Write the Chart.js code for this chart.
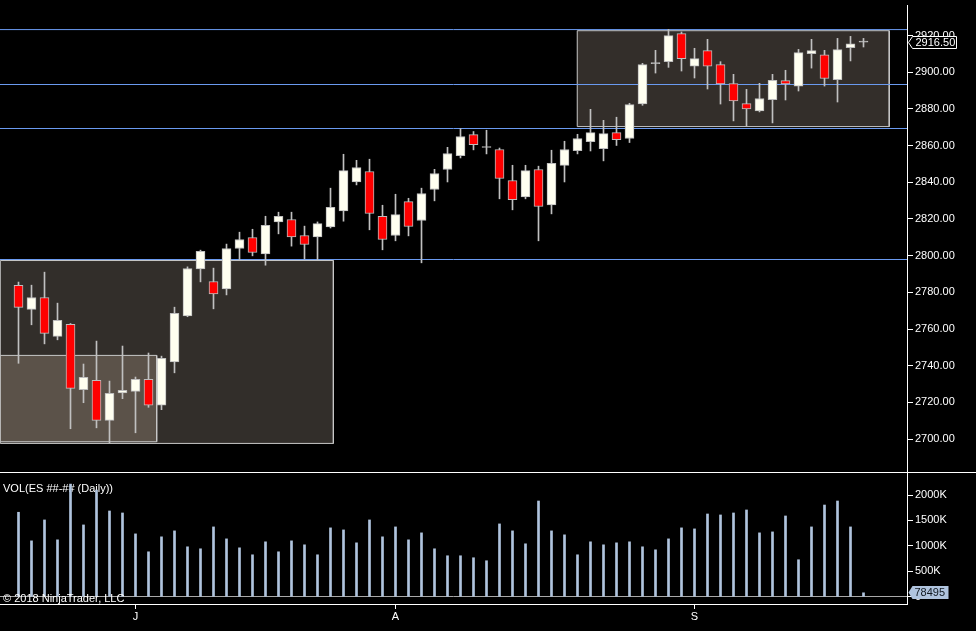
<!DOCTYPE html>
<html><head><meta charset="utf-8">
<script src="https://cdn.jsdelivr.net/npm/chart.js@4.4.1/dist/chart.umd.min.js"></script>
<style>
html,body{margin:0;padding:0;background:#000;overflow:hidden;}
#wrap{position:relative;width:976px;height:631px;background:#000;}
#price{position:absolute;left:0;top:0;}
#vol{position:absolute;left:0;top:472px;}
</style></head><body>
<div id="wrap">
<canvas id="price" width="976" height="472"></canvas>
<canvas id="vol" width="976" height="159"></canvas>
</div>
<script>
// ---- data (daily ES bars) ----
const openP  = [2783.8,2770.7,2777.2,2756.0,2762.5,2726.9,2732.0,2710.2,2725.2,2726.0,2732.5,2718.4,2742.1,2767.2,2792.8,2785.9,2781.9,2803.9,2809.9,2801.0,2818.4,2819.7,2811.0,2810.2,2815.7,2824.4,2840.2,2845.9,2821.4,2811.0,2829.5,2819.2,2836.1,2847.0,2854.6,2866.0,2859.0,2857.9,2841.0,2832.0,2847.0,2827.7,2849.2,2857.3,2862.2,2858.4,2867.1,2863.9,2882.7,2904.7,2905.8,2921.1,2903.4,2911.8,2904.2,2893.8,2882.9,2878.9,2885.1,2895.5,2892.5,2910.2,2909.6,2896.0,2913.5,2916.5];
const highP  = [2785.6,2783.9,2791.0,2774.1,2763.0,2740.9,2753.4,2731.6,2750.7,2733.8,2746.9,2745.2,2771.9,2793.9,2803.0,2793.2,2806.3,2812.8,2814.4,2821.5,2823.7,2823.7,2816.1,2818.4,2836.8,2855.3,2852.0,2852.6,2827.5,2833.5,2831.3,2836.8,2847.1,2859.1,2869.3,2867.7,2868.4,2858.7,2849.3,2849.3,2848.8,2857.5,2862.4,2866.2,2879.8,2873.8,2875.5,2883.1,2904.9,2912.0,2923.4,2922.0,2913.1,2918.0,2905.8,2898.9,2890.7,2894.0,2898.9,2901.1,2912.5,2918.0,2912.0,2918.5,2919.6,2918.5];
const lowP   = [2741.3,2762.3,2751.9,2754.1,2705.6,2719.8,2706.1,2698.0,2722.0,2703.4,2717.3,2716.0,2736.1,2766.7,2785.7,2771.0,2778.6,2797.9,2799.9,2794.8,2811.9,2805.2,2798.2,2797.9,2815.1,2818.8,2838.6,2814.1,2803.2,2808.1,2810.8,2796.1,2829.9,2840.2,2853.3,2857.7,2855.5,2831.0,2825.0,2831.0,2808.1,2822.8,2840.2,2855.5,2857.1,2851.7,2860.1,2861.7,2882.0,2899.6,2902.7,2900.7,2896.9,2890.9,2882.7,2873.5,2870.6,2878.4,2872.4,2884.9,2889.8,2902.3,2892.5,2883.8,2906.2,2913.8];
const closeP = [2771.8,2777.2,2757.6,2764.7,2727.6,2733.6,2710.2,2724.9,2726.5,2732.5,2718.4,2744.0,2768.5,2793.0,2802.3,2779.2,2803.9,2808.8,2801.7,2816.5,2821.4,2810.2,2806.1,2817.5,2826.3,2846.4,2848.1,2823.0,2808.8,2822.4,2815.9,2833.9,2844.8,2855.7,2865.0,2860.6,2859.0,2842.1,2830.6,2846.4,2826.8,2850.4,2857.9,2863.9,2867.1,2866.6,2863.3,2882.4,2904.2,2904.7,2920.0,2907.5,2907.5,2903.4,2893.6,2884.4,2880.0,2885.7,2895.6,2893.6,2910.7,2911.8,2896.6,2912.4,2915.6,2916.5];
const volume = [1661000,1099000,1510000,1119000,2214000,1412000,2097000,1686000,1647000,1236000,884000,1178000,1295000,982000,943000,1373000,1138000,962000,825000,1080000,884000,1099000,1021000,825000,1354000,1314000,1060000,1510000,1178000,1373000,1119000,1256000,943000,806000,806000,767000,708000,1432000,1295000,1041000,1882000,1295000,1217000,825000,1080000,1021000,1060000,1080000,982000,923000,1138000,1354000,1334000,1627000,1608000,1647000,1706000,1256000,1275000,1588000,728000,1373000,1803000,1882000,1373000,78495];

const priceTicks = [2700,2720,2740,2760,2780,2800,2820,2840,2860,2880,2900,2920];
const volumeTicks = [0,500000,1000000,1500000,2000000];
const monthTickIndex = [9,29,52];
const monthTickLabels = ['J','A','S'];

// drawn objects (in data units: bar index / price)
const hLines = [2923.3, 2893.35, 2869.35, 2797.9];
const zoneLeft   = [-1.4, -1.4, 42.98];
const zoneRight  = [24.22, 10.63, 66.98];
const zoneTop    = [2797.35, 2745.6, 2922.7];
const zoneBottom = [2697.6, 2698.5, 2870.4];

const volTitle = 'VOL(ES ##-## (Daily))';
const copyright = '\u00A9 2018 NinjaTrader, LLC';

// ---- styling / scales ----
const FONT = "'Liberation Sans', Arial, sans-serif";
Chart.defaults.font.family = FONT;
Chart.defaults.font.size = 11;
Chart.defaults.color = '#ffffff';

const X_MIN = -1.4231, X_MAX = 68.346;
const zoneFill = ['#322e2a', '#5b5249', '#332e2a'];
const last = closeP.length - 1;

const xScaleBase = {
  type: 'linear', min: X_MIN, max: X_MAX, offset: false,
  grid: {offset: false, display: false}
};

const zoneSets = zoneLeft.map((L, k) => ({
  type: 'line',
  data: [{x: L, y: zoneBottom[k]}, {x: L, y: zoneTop[k]}, {x: zoneRight[k], y: zoneTop[k]}, {x: zoneRight[k], y: zoneBottom[k]}, {x: L, y: zoneBottom[k]}],
  fill: 'shape', backgroundColor: zoneFill[k], borderColor: '#c8c8c8', borderWidth: 1,
  pointRadius: 0, pointHoverRadius: 0, tension: 0, order: 50 - k
}));
const lineSets = hLines.map(v => ({
  type: 'line',
  data: [{x: X_MIN, y: v}, {x: X_MAX, y: v}],
  borderColor: '#6a9af0', borderWidth: 1, fill: false,
  pointRadius: 0, pointHoverRadius: 0, tension: 0, order: 40
}));
const wickSet = {
  type: 'bar',
  data: highP.map((h, i) => ({x: i, y: [lowP[i], h]})),
  backgroundColor: '#c0c0c0', borderWidth: 0,
  barThickness: 1, grouped: false, order: 20
};
const bodySet = {
  type: 'bar',
  data: openP.map((o, i) => ({x: i, y: [o, closeP[i]]})),
  backgroundColor: openP.map((o, i) => closeP[i] > o ? '#fffff0' : (closeP[i] < o ? '#ff0000' : '#c0c0c0')),
  borderColor: '#bdbdbd', borderWidth: 1, borderSkipped: false,
  barThickness: 9, minBarLength: 1, grouped: false, order: 10
};

const lastPricePlugin = {
  id: 'lastPrice',
  afterDraw(chart) {
    const ctx = chart.ctx, y = Math.round(chart.scales.y.getPixelForValue(closeP[last])) + 0.5;
    const x0 = chart.chartArea.right + 0.5;
    ctx.save();
    ctx.beginPath();
    ctx.moveTo(x0 + 1, y);
    ctx.lineTo(x0 + 5, y - 6);
    ctx.lineTo(x0 + 49, y - 6);
    ctx.lineTo(x0 + 49, y + 6);
    ctx.lineTo(x0 + 5, y + 6);
    ctx.closePath();
    ctx.fillStyle = '#000';
    ctx.fill();
    ctx.strokeStyle = '#ffffff';
    ctx.lineWidth = 1;
    ctx.stroke();
    ctx.fillStyle = '#ffffff';
    ctx.font = '11px ' + FONT;
    ctx.textBaseline = 'middle';
    ctx.textAlign = 'left';
    ctx.fillText(closeP[last].toFixed(2), x0 + 8, y + 0.5);
    ctx.restore();
  }
};

new Chart(document.getElementById('price'), {
  type: 'bar',
  data: {datasets: [bodySet, wickSet, ...lineSets, ...zoneSets]},
  options: {
    responsive: false, animation: false, devicePixelRatio: 1, events: [],
    layout: {padding: {top: 5, left: 0, right: 0, bottom: 0}},
    plugins: {legend: {display: false}, tooltip: {enabled: false}},
    scales: {
      x: Object.assign({}, xScaleBase, {display: false}),
      y: {
        type: 'linear', position: 'right', min: 2682.01, max: 2936.71, beginAtZero: false,
        afterBuildTicks: s => { s.ticks = priceTicks.map(v => ({value: v})); },
        afterFit: s => { s.width = 69; s.paddingTop = 0; s.paddingBottom = 0; },
        ticks: {color: '#ffffff', padding: 2, font: {size: 11}, callback: v => Number(v).toFixed(2)},
        grid: {drawOnChartArea: false, drawTicks: true, tickLength: 6, tickColor: '#ffffff'},
        border: {display: true, color: '#ffffff'}
      }
    }
  },
  plugins: [lastPricePlugin]
});

// ---- volume panel ----
const volumeTextPlugin = {
  id: 'volText',
  beforeDatasetsDraw(chart) {
    const ctx = chart.ctx;
    ctx.save();
    ctx.strokeStyle = '#ffffff';
    ctx.lineWidth = 1;
    ctx.beginPath();
    ctx.moveTo(0, 0.5);
    ctx.lineTo(chart.width, 0.5);
    ctx.stroke();
    ctx.fillStyle = '#ffffff';
    ctx.font = '11px ' + FONT;
    ctx.textBaseline = 'alphabetic';
    ctx.textAlign = 'left';
    ctx.fillText(volTitle, 3, 20);
    ctx.restore();
  },
  afterDraw(chart) {
    const ctx = chart.ctx;
    ctx.save();
    ctx.fillStyle = '#ffffff';
    ctx.font = '11px ' + FONT;
    ctx.textBaseline = 'alphabetic';
    ctx.textAlign = 'left';
    ctx.fillText(copyright, 3, 129.5);
    const y = Math.round(chart.scales.y.getPixelForValue(volume[last])) - 0.5;
    const x0 = chart.chartArea.right + 0.5;
    ctx.beginPath();
    ctx.moveTo(x0 + 1, y);
    ctx.lineTo(x0 + 5, y - 6.5);
    ctx.lineTo(x0 + 41, y - 6.5);
    ctx.lineTo(x0 + 41, y + 6.5);
    ctx.lineTo(x0 + 5, y + 6.5);
    ctx.closePath();
    ctx.fillStyle = '#b0c4de';
    ctx.fill();
    ctx.fillStyle = '#101820';
    ctx.textBaseline = 'middle';
    ctx.fillText(String(volume[last]), x0 + 7, y + 0.5);
    ctx.restore();
  }
};

new Chart(document.getElementById('vol'), {
  type: 'bar',
  data: {datasets: [{
    data: volume.map((v, i) => ({x: i, y: v})),
    backgroundColor: '#b0c4de', borderWidth: 0, barThickness: 2, grouped: false
  }]},
  options: {
    responsive: false, animation: false, devicePixelRatio: 1, events: [],
    layout: {padding: 0},
    plugins: {legend: {display: false}, tooltip: {enabled: false}},
    scales: {
      x: Object.assign({}, xScaleBase, {
        display: true, position: 'bottom',
        afterBuildTicks: s => { s.ticks = monthTickIndex.map(v => ({value: v})); },
        afterFit: s => { s.height = 27; s.paddingLeft = 0; s.paddingRight = 0; },
        ticks: {color: '#ffffff', padding: 1, autoSkip: false, maxRotation: 0, font: {size: 11},
          callback: v => monthTickLabels[monthTickIndex.indexOf(v)]},
        grid: {offset: false, display: true, drawOnChartArea: false, drawTicks: true, tickLength: 5, tickColor: '#ffffff'},
        border: {display: true, color: '#ffffff'}
      }),
      y: {
        type: 'linear', position: 'right', min: -141500, max: 2451900, beginAtZero: false,
        afterBuildTicks: s => { s.ticks = volumeTicks.map(v => ({value: v})); },
        afterFit: s => { s.width = 69; s.paddingTop = 0; s.paddingBottom = 0; },
        ticks: {color: '#ffffff', padding: 2, font: {size: 11},
          callback: v => v === 0 ? '0' : (v / 1000) + 'K'},
        grid: {drawOnChartArea: true, drawTicks: true, tickLength: 6, tickColor: '#ffffff',
          color: c => (c.tick && c.tick.value === 0) ? '#a8a8a8' : 'rgba(0,0,0,0)'},
        border: {display: true, color: '#ffffff'}
      }
    }
  },
  plugins: [volumeTextPlugin]
});
</script>
</body></html>
